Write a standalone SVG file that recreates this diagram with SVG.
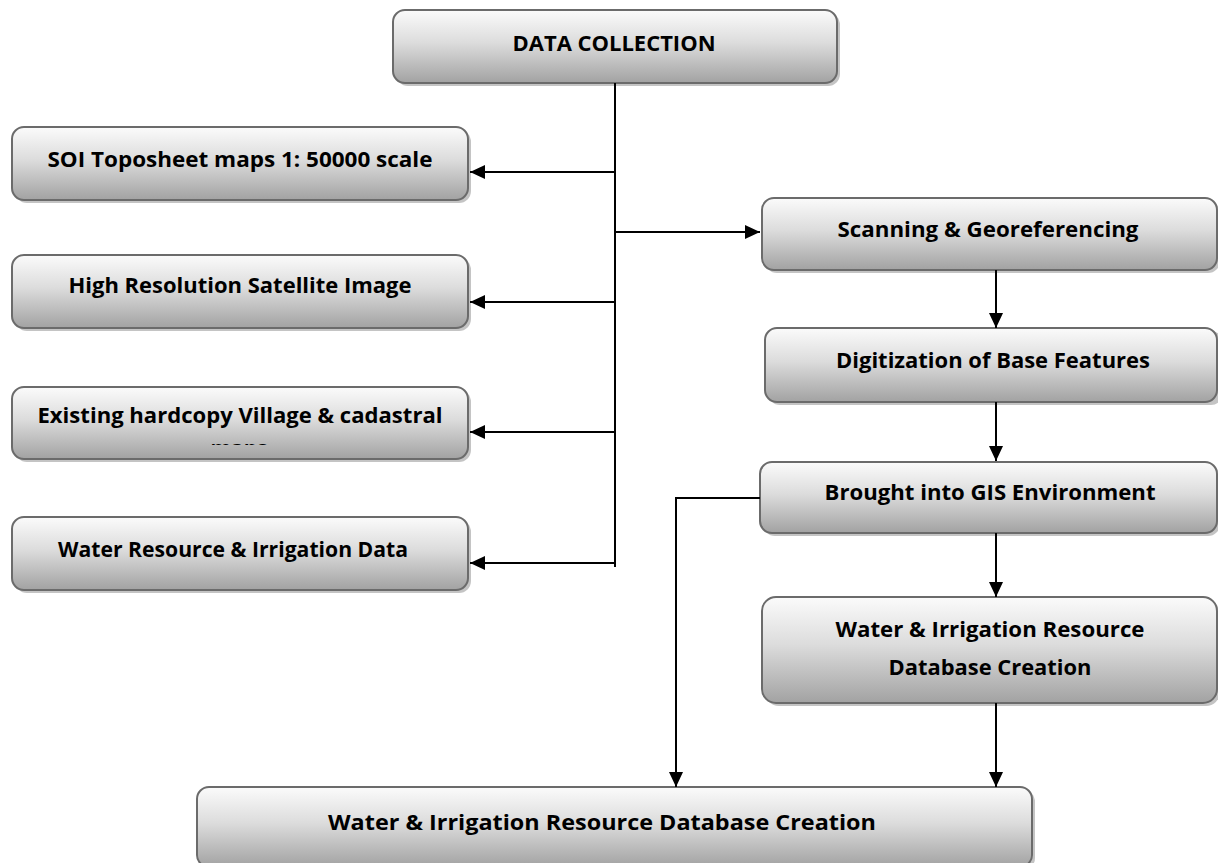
<svg xmlns="http://www.w3.org/2000/svg" width="1218" height="863" viewBox="0 0 1218 863">
<defs>
<linearGradient id="g" x1="0" y1="0" x2="0" y2="1">
<stop offset="0" stop-color="#fbfbfb"/>
<stop offset="0.45" stop-color="#dcdcdc"/>
<stop offset="1" stop-color="#a2a2a2"/>
</linearGradient>
<marker id="ah" viewBox="0 0 15 14" refX="15" refY="7" markerWidth="15" markerHeight="14" markerUnits="userSpaceOnUse" orient="auto">
<path d="M0,0 L15,7 L0,14 Z" fill="#000"/>
</marker>
<clipPath id="mapsclip"><rect x="12" y="387" width="456" height="58"/></clipPath>
</defs>
<style>
.box{fill:url(#g);stroke:#6b6b6b;stroke-width:2}
.sh{fill:#c4c4c4}
.t{font-family:"Open Sans","Liberation Sans",sans-serif;font-weight:700;font-size:22px;fill:#000;text-anchor:middle}
.c{fill:none;stroke:#000;stroke-width:2}
.a{marker-end:url(#ah)}
</style>
<rect width="1218" height="863" fill="#fff"/>

<g id="n-data">
<rect class="sh" x="396" y="13" width="444" height="73" rx="12"/>
<rect class="box" x="393" y="10" width="444" height="73" rx="12"/>
<text class="t" x="614" y="51" textLength="203" lengthAdjust="spacingAndGlyphs">DATA COLLECTION</text>
</g>

<g id="n-soi">
<rect class="sh" x="15" y="130" width="456" height="73" rx="12"/>
<rect class="box" x="12" y="127" width="456" height="73" rx="12"/>
<text class="t" x="240" y="167" textLength="385" lengthAdjust="spacingAndGlyphs">SOI Toposheet maps 1: 50000 scale</text>
</g>

<g id="n-hires">
<rect class="sh" x="15" y="258" width="456" height="73" rx="12"/>
<rect class="box" x="12" y="255" width="456" height="73" rx="12"/>
<text class="t" x="240" y="293" textLength="343" lengthAdjust="spacingAndGlyphs">High Resolution Satellite Image</text>
</g>

<g id="n-existing">
<rect class="sh" x="15" y="390" width="456" height="72" rx="12"/>
<rect class="box" x="12" y="387" width="456" height="72" rx="12"/>
<text class="t" x="240" y="423" textLength="405" lengthAdjust="spacingAndGlyphs">Existing hardcopy Village &amp; cadastral</text>
<text class="t" x="239" y="456" clip-path="url(#mapsclip)" textLength="57" lengthAdjust="spacingAndGlyphs">maps</text>
</g>

<g id="n-water">
<rect class="sh" x="15" y="520" width="456" height="73" rx="12"/>
<rect class="box" x="12" y="517" width="456" height="73" rx="12"/>
<text class="t" x="233" y="557" textLength="350" lengthAdjust="spacingAndGlyphs">Water Resource &amp; Irrigation Data</text>
</g>

<g id="n-scan">
<rect class="sh" x="765" y="201" width="455" height="72" rx="12"/>
<rect class="box" x="762" y="198" width="455" height="72" rx="12"/>
<text class="t" x="988" y="237" textLength="301" lengthAdjust="spacingAndGlyphs">Scanning &amp; Georeferencing</text>
</g>

<g id="n-digit">
<rect class="sh" x="768" y="331" width="455" height="74" rx="12"/>
<rect class="box" x="765" y="328" width="452" height="74" rx="12"/>
<text class="t" x="993" y="368" textLength="314" lengthAdjust="spacingAndGlyphs">Digitization of Base Features</text>
</g>

<g id="n-gis">
<rect class="sh" x="763" y="465" width="457" height="71" rx="12"/>
<rect class="box" x="760" y="462" width="457" height="71" rx="12"/>
<text class="t" x="990" y="500" textLength="331" lengthAdjust="spacingAndGlyphs">Brought into GIS Environment</text>
</g>

<g id="n-wdb">
<rect class="sh" x="765" y="600" width="455" height="106" rx="14"/>
<rect class="box" x="762" y="597" width="455" height="106" rx="14"/>
<text class="t" x="990" y="637" textLength="309" lengthAdjust="spacingAndGlyphs">Water &amp; Irrigation Resource</text>
<text class="t" x="990" y="675" textLength="203" lengthAdjust="spacingAndGlyphs">Database Creation</text>
</g>

<g id="n-final">
<rect class="sh" x="200" y="790" width="835" height="80" rx="12"/>
<rect class="box" x="197" y="787" width="835" height="80" rx="12"/>
<text class="t" x="602" y="830" textLength="548" lengthAdjust="spacingAndGlyphs">Water &amp; Irrigation Resource Database Creation</text>
</g>

<g id="connectors">
<path class="c" d="M615,83 V567"/>
<path class="c a" d="M615,172 H470"/>
<path class="c a" d="M615,302 H470"/>
<path class="c a" d="M615,432 H470"/>
<path class="c a" d="M615,563 H470"/>
<path class="c a" d="M615,232 H760"/>
<path class="c a" d="M996,270 V328"/>
<path class="c a" d="M996,402 V461"/>
<path class="c a" d="M996,533 V597"/>
<path class="c a" d="M996,703 V787"/>
<path class="c a" d="M760,498 H676 V787"/>
</g>
</svg>
